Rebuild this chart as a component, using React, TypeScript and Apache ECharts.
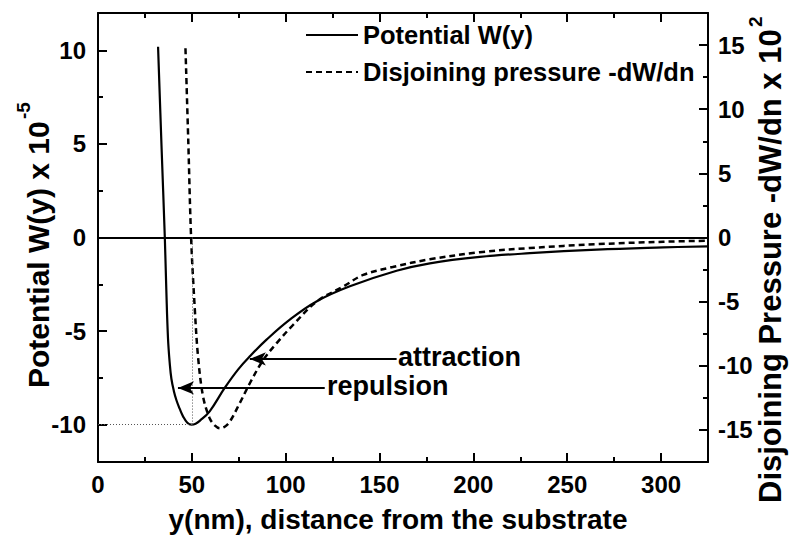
import React, { useEffect, useRef } from 'react';
import * as echarts from 'echarts';

// ---- Data ----
const potentialX = [32.0, 33.8, 35.6, 36.4, 37.3, 38.2, 39.1, 40.4, 41.8, 43.5, 45.3, 47.6, 49.8, 52.0, 54.2, 59.5, 67.5, 74.6, 80.9, 89.8, 102.2, 116.4, 134.2, 159.1, 176.8, 203.4, 230.1, 265.7, 301.2, 325];
const potentialY = [10.2, 5.0, 0, -2.8, -5.4, -6.7, -7.55, -8.2, -8.7, -9.15, -9.56, -9.9, -10.0, -9.95, -9.8, -9.29, -8.04, -7.06, -6.35, -5.46, -4.39, -3.42, -2.61, -1.78, -1.38, -1.04, -0.84, -0.65, -0.53, -0.47];

const pressureX = [46.6, 48.1, 49.6, 51.5, 53.3, 56.0, 59.5, 62.2, 64.9, 67.5, 70.2, 75.5, 80.9, 88.0, 95.1, 103.9, 116.4, 130.6, 141.3, 157.0, 176.8, 203.4, 230.1, 265.7, 301.2, 325];
const pressureY = [14.75, 7.5, 0, -5.39, -9.29, -12.41, -14.09, -14.65, -14.87, -14.75, -14.36, -12.92, -11.36, -9.55, -8.25, -6.82, -5.0, -3.83, -2.92, -2.3, -1.7, -1.15, -0.82, -0.52, -0.33, -0.25];

const xMajorTicks = [0, 50, 100, 150, 200, 250, 300];
const xMinorTicks = [25, 75, 125, 175, 225, 275];
const leftMajorTicks = [-10, -5, 0, 5, 10];
const leftMinorTicks = [-7.5, -2.5, 2.5, 7.5];
const rightMajorTicks = [-15, -10, -5, 0, 5, 10, 15];
const rightMinorTicks = [-12.5, -7.5, -2.5, 2.5, 7.5, 12.5];

const seriesNames = ['Potential W(y)', 'Disjoining pressure -dW/dn'];
const xTitle = 'y(nm), distance from the substrate';
const leftTitle = 'Potential W(y) x 10';
const leftTitleExp = '-5';
const rightTitle = 'Disjoining Pressure -dW/dn x 10';
const rightTitleExp = '2';

// arrows: [tailX, tailY, tipX, tipY] in potential-axis units
const arrowLabels = ['attraction', 'repulsion'];
const arrowCoords = [
  [159.1, -6.49, 80.9, -6.49],
  [120.8, -8.04, 42.6, -8.04],
];
// dotted guide at the potential minimum
const minGuide = [50.2, -10];

const FONT = '"Liberation Sans", Arial, sans-serif';
const X0 = 0, X1 = 325;
const L0 = -12, L1 = 12;
const R0 = -17.5, R1 = 17.5;

function makeAxis(kind: 'x' | 'y', position: string, min: number, max: number, ticks: number[], tickLen: number, labels: boolean, showLine: boolean) {
  return {
    type: 'value',
    position,
    min,
    max,
    axisLine: { show: showLine, onZero: false, lineStyle: { color: '#000', width: 2 } },
    axisTick: { show: true, inside: true, length: tickLen, customValues: ticks, lineStyle: { color: '#000', width: 2 } },
    axisLabel: labels
      ? { show: true, customValues: ticks, margin: kind === 'x' ? 10 : position === 'left' ? 12 : 10, fontSize: 24, fontWeight: 'bold', fontFamily: FONT, color: '#000' }
      : { show: false },
    splitLine: { show: false },
  };
}

export default function App() {
  const ref = useRef<HTMLDivElement>(null);
  useEffect(() => {
    document.body.style.margin = '0';
    const chart = echarts.init(ref.current!, null, { renderer: 'svg' });
    const potData = potentialX.map((x, i) => [x, potentialY[i]]);
    const presData = pressureX.map((x, i) => [x, pressureY[i]]);
    const arrowLines = arrowCoords.map((c) => [
      { coord: [c[0], c[1]], symbol: 'none', lineStyle: { type: 'solid', width: 2, color: '#000' } },
      { coord: [c[2], c[3]], symbol: 'arrow', symbolSize: [10, 16] },
    ]);
    const dotted = { type: [1, 2], width: 1, color: '#555' };
    const option: any = {
      animation: false,
      backgroundColor: '#fff',
      grid: { left: 98, right: 82, top: 13, bottom: 80, containLabel: false },
      legend: {
        show: true,
        orient: 'vertical',
        left: 300,
        top: 17,
        itemWidth: 52,
        itemHeight: 14,
        itemGap: 11,
        data: seriesNames,
        itemStyle: { opacity: 0 },
        textStyle: { fontSize: 25.5, fontWeight: 'bold', fontFamily: FONT, color: '#000' },
      },
      xAxis: [
        makeAxis('x', 'bottom', X0, X1, xMajorTicks, 9, true, true),
        makeAxis('x', 'bottom', X0, X1, xMinorTicks, 5, false, false),
        makeAxis('x', 'top', X0, X1, xMajorTicks, 9, false, true),
        makeAxis('x', 'top', X0, X1, xMinorTicks, 5, false, false),
      ],
      yAxis: [
        makeAxis('y', 'left', L0, L1, leftMajorTicks, 9, true, true),
        makeAxis('y', 'left', L0, L1, leftMinorTicks, 5, false, false),
        makeAxis('y', 'right', R0, R1, rightMajorTicks, 9, true, true),
        makeAxis('y', 'right', R0, R1, rightMinorTicks, 5, false, false),
      ],
      series: [
        {
          type: 'line',
          name: seriesNames[0],
          xAxisIndex: 0,
          yAxisIndex: 0,
          data: potData,
          symbol: 'none',
          showSymbol: false,
          smooth: 0.4,
          lineStyle: { color: '#000', width: 2.2, type: 'solid' },
          itemStyle: { color: '#000' },
          z: 3,
          markLine: {
            silent: true,
            animation: false,
            symbol: 'none',
            label: { show: false },
            data: [
              { yAxis: 0, lineStyle: { type: 'solid', width: 2, color: '#000' } },
              [
                { coord: [X0, minGuide[1]], symbol: 'none', lineStyle: dotted },
                { coord: [minGuide[0], minGuide[1]], symbol: 'none' },
              ],
              [
                { coord: [minGuide[0], minGuide[1]], symbol: 'none', lineStyle: dotted },
                { coord: [minGuide[0], 0], symbol: 'none' },
              ],
              ...arrowLines,
            ],
          },
        },
        {
          type: 'line',
          name: seriesNames[1],
          xAxisIndex: 0,
          yAxisIndex: 2,
          data: presData,
          symbol: 'none',
          showSymbol: false,
          smooth: 0.35,
          lineStyle: { color: '#000', width: 2.5, type: [6, 4] },
          itemStyle: { color: '#000' },
          z: 3,
        },
      ],
      graphic: [
        {
          type: 'text',
          x: 398,
          y: 357,
          style: { text: arrowLabels[0], fontSize: 27, fontWeight: 'bold', fontFamily: FONT, fill: '#000', textAlign: 'left', textVerticalAlign: 'middle' },
        },
        {
          type: 'text',
          x: 327,
          y: 386,
          style: { text: arrowLabels[1], fontSize: 27, fontWeight: 'bold', fontFamily: FONT, fill: '#000', textAlign: 'left', textVerticalAlign: 'middle' },
        },
        {
          type: 'text',
          x: 398,
          y: 519,
          style: { text: xTitle, fontSize: 28, fontWeight: 'bold', fontFamily: FONT, fill: '#000', textAlign: 'center', textVerticalAlign: 'middle' },
        },
        {
          type: 'group',
          x: 38,
          y: 388,
          rotation: Math.PI / 2,
          children: [
            { type: 'text', x: 0, y: 0, style: { text: leftTitle, fontSize: 30, fontWeight: 'bold', fontFamily: FONT, fill: '#000', textAlign: 'left', textVerticalAlign: 'middle' } },
            { type: 'text', x: 269, y: -15, style: { text: leftTitleExp, fontSize: 19, fontWeight: 'bold', fontFamily: FONT, fill: '#000', textAlign: 'left', textVerticalAlign: 'middle' } },
          ],
        },
        {
          type: 'group',
          x: 770,
          y: 503,
          rotation: Math.PI / 2,
          children: [
            { type: 'text', x: 0, y: 0, style: { text: rightTitle, fontSize: 31, fontWeight: 'bold', fontFamily: FONT, fill: '#000', textAlign: 'left', textVerticalAlign: 'middle' } },
            { type: 'text', x: 476, y: -15, style: { text: rightTitleExp, fontSize: 19, fontWeight: 'bold', fontFamily: FONT, fill: '#000', textAlign: 'left', textVerticalAlign: 'middle' } },
          ],
        },
      ],
    };
    chart.setOption(option);
    return () => chart.dispose();
  }, []);
  return <div ref={ref} style={{ width: 790, height: 542 }} />;
}
